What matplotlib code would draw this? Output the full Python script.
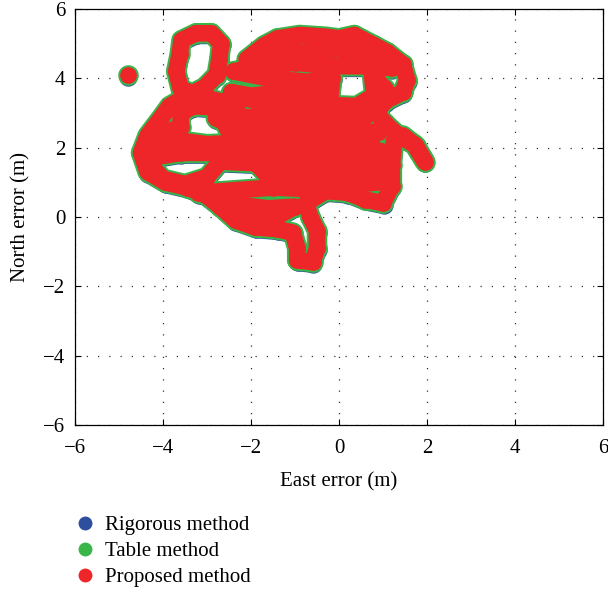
import numpy as np
import matplotlib.pyplot as plt
from matplotlib.lines import Line2D
from matplotlib.transforms import offset_copy

plt.rcParams['font.family'] = ['Liberation Serif', 'DejaVu Serif']
plt.rcParams['font.size'] = 15

# position error track (m); nan splits off the first fix
east = [-4.8, np.nan,
        -2.3, -2.75, -3.2, -3.6, -3.7, -3.62, -3.58, -3.25, -2.9, -2.68, -2.72, -2.78,
        -3.05, -3.5, -3.85, -4.05, -4.35, -4.5, -4.35, -3.95, -3.45, -3.05, -2.7, -2.35,
        -1.9, -1.4, -1.05, -0.95, -0.95, -0.6, -0.5, -0.5, -0.65, -0.75, -0.3, 0.2,
        0.6, 1.0, 1.2, 1.2, 1.25, 1.45, 1.75, 1.95, 1.7, 1.35, 1.05, 0.85, 1.05, 1.45,
        1.55, 1.45, 1.1, 0.8, 0.35, 0.0, -0.3, -0.9, -1.4, -1.7, -2.1,
        -1.5, -0.8, 0.0, 0.7, 1.2,
        0.6, -0.2, -1.0, -1.8, -2.4,
        -1.6, -0.7, -0.15, -0.2,
        -1.2, -2.0, -2.45,
        -1.6, -0.6, 0.4, 0.8, 0.75, 1.05, 0.9,
        0.6, -0.4, -1.5, -2.4, -2.8,
        -2.2, -1.0, 0.1, 0.9,
        0.2, -0.9, -2.0, -3.0, -3.6, -4.2, -4.3, -3.6, -2.8,
        -1.8, -0.8, 0.3, 0.95,
        0.3, -0.8, -1.8, -2.7, -3.0, -3.5, -4.0, -4.25,
        -4.3, -4.0, -3.6, -3.6, -3.3, -2.7, -2.6, -2.4, -1.7, -1.6,
        -0.6, 0.4, 1.0, 0.85, 0.7, 0.85,
        0.2, -0.6, -1.5, -2.6, -3.2,
        -2.3, -1.6, -1.0,
        -1.5, -2.2]
north = [4.1, np.nan,
         3.3, 3.35, 3.5, 3.7, 4.2, 4.7, 5.1, 5.3, 5.3, 5.0, 4.55, 4.1,
         3.75, 3.45, 3.2, 2.85, 2.35, 1.85, 1.3, 1.0, 0.85, 0.65, 0.3, -0.1,
         -0.3, -0.35, -0.45, -0.9, -1.25, -1.3, -0.9, -0.4, 0.0, 0.4, 0.75, 0.7,
         0.5, 0.4, 0.9, 1.5, 2.2, 2.35, 2.05, 1.6, 2.1, 2.35, 2.7, 3.0, 3.35, 3.6,
         3.95, 4.4, 4.75, 4.95, 5.25, 5.15, 5.2, 5.25, 5.15, 4.95, 4.55,
         4.8, 4.75, 4.85, 4.6, 4.3,
         4.35, 4.35, 4.45, 4.35, 4.2,
         4.0, 3.9, 4.0, 3.5,
         3.6, 3.5, 3.6,
         3.2, 3.25, 3.2, 3.5, 4.1, 3.7, 3.2,
         2.9, 2.95, 2.85, 2.9, 2.85,
         2.5, 2.55, 2.5, 2.45,
         2.15, 2.2, 2.15, 2.1, 2.2, 2.0, 1.7, 1.85, 1.85,
         1.85, 1.9, 1.85, 1.9,
         1.5, 1.55, 1.55, 1.6, 1.15, 0.95, 1.1, 1.45,
         1.9, 2.4, 2.6, 3.0, 3.2, 3.15, 2.7, 2.2, 1.3, 1.15,
         1.2, 1.15, 1.2, 1.7, 2.3, 1.0,
         0.9, 0.8, 0.85, 0.75, 0.7,
         0.35, 0.25, 0.3,
         -0.05, 0.0]

methods = ['Rigorous method', 'Table method', 'Proposed method']
colors = ['#2D4F9E', '#39B54A', '#EE2529']

fig = plt.figure(figsize=(6.08, 5.92), dpi=100)
ax = fig.add_axes([0.1234, 0.2821, 0.8684, 0.7027])

# the three solutions overlap almost everywhere, so draw them as stacked thick tracks
blue_tr = offset_copy(ax.transData, fig=fig, x=0.5, y=-1.8, units='dots')
w = 12.0
ax.plot(east, north, color=colors[0], lw=w + 1.2, marker='o', ms=w + 1.2, mew=0,
        solid_capstyle='round', solid_joinstyle='round', transform=blue_tr)
ax.plot(east, north, color=colors[1], lw=w + 2.8, marker='o', ms=w + 2.8, mew=0,
        solid_capstyle='round', solid_joinstyle='round')
ax.plot(east, north, color=colors[2], lw=w, marker='o', ms=w, mew=0,
        solid_capstyle='round', solid_joinstyle='round')

ax.set_xlim(-6, 6)
ax.set_ylim(-6, 6)
ax.set_xticks(np.arange(-6, 7, 2))
ax.set_yticks(np.arange(-6, 7, 2))
ax.grid(True, color='#333333', linestyle=(0, (1, 8)), linewidth=0.9)
ax.tick_params(direction='in', top=True, right=True, length=4, width=0.8, pad=7)
ax.tick_params(axis='x', pad=10)
for s in ax.spines.values():
    s.set_linewidth(0.9)
ax.set_xlabel('East error (m)', labelpad=10)
ax.set_ylabel('North error (m)', labelpad=9)

handles = [Line2D([], [], linestyle='none', marker='o', ms=10, mew=0, color=c) for c in colors]
fig.legend(handles, methods, loc='upper left', bbox_to_anchor=(0.099, 0.154),
           frameon=False, handlelength=1.0, handletextpad=0.45, labelspacing=0.32,
           borderpad=0.2, fontsize=15)

fig.savefig('out.png', dpi=100)
